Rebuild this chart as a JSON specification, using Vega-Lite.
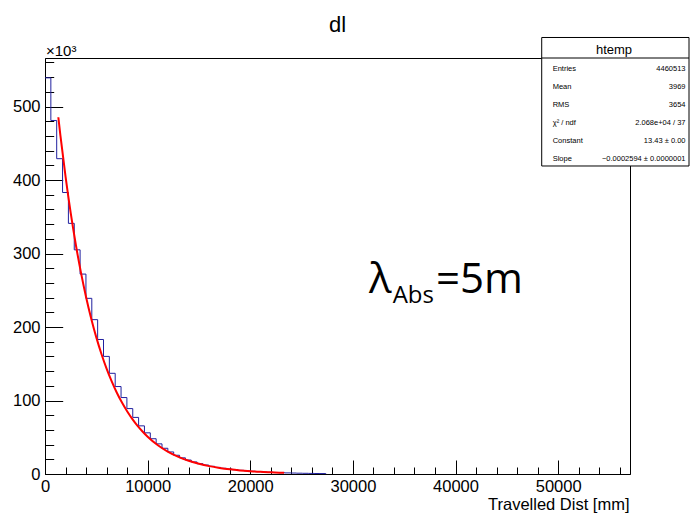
{
  "$schema": "https://vega.github.io/schema/vega-lite/v6.json",
  "width": 585,
  "height": 416,
  "autosize": {"type": "none"},
  "padding": {"left": 45, "top": 58, "right": 63, "bottom": 40},
  "background": "white",
  "config": {
    "view": {"stroke": "black", "strokeWidth": 1},
    "font": "Liberation Sans",
    "axis": {"grid": false, "tickColor": "black", "domainColor": "black", "labelColor": "black", "titleColor": "black"}
  },
  "title": {
    "text": "dl",
    "font": "Liberation Sans",
    "fontSize": 22,
    "fontWeight": "normal",
    "color": "black",
    "anchor": "middle",
    "frame": "group",
    "offset": 0
  },
  "datasets": {
    "hist": [
      {"dist": 0, "count": 539000},
      {"dist": 570, "count": 481000},
      {"dist": 1140, "count": 429000},
      {"dist": 1710, "count": 383000},
      {"dist": 2280, "count": 341000},
      {"dist": 2850, "count": 305000},
      {"dist": 3420, "count": 272000},
      {"dist": 3990, "count": 239000},
      {"dist": 4560, "count": 210000},
      {"dist": 5130, "count": 183000},
      {"dist": 5700, "count": 160000},
      {"dist": 6270, "count": 137000},
      {"dist": 6840, "count": 119000},
      {"dist": 7410, "count": 104000},
      {"dist": 7980, "count": 89000},
      {"dist": 8550, "count": 77000},
      {"dist": 9120, "count": 65500},
      {"dist": 9690, "count": 56000},
      {"dist": 10260, "count": 48000},
      {"dist": 10830, "count": 41000},
      {"dist": 11400, "count": 35000},
      {"dist": 11970, "count": 30000},
      {"dist": 12540, "count": 25500},
      {"dist": 13110, "count": 22000},
      {"dist": 13680, "count": 19000},
      {"dist": 14250, "count": 16400},
      {"dist": 14820, "count": 14000},
      {"dist": 15390, "count": 12200},
      {"dist": 15960, "count": 10500},
      {"dist": 16530, "count": 9000},
      {"dist": 17100, "count": 7800},
      {"dist": 17670, "count": 6700},
      {"dist": 18240, "count": 5800},
      {"dist": 18810, "count": 5000},
      {"dist": 19380, "count": 4300},
      {"dist": 19950, "count": 3700},
      {"dist": 20520, "count": 3200},
      {"dist": 21090, "count": 2700},
      {"dist": 21660, "count": 2400},
      {"dist": 22230, "count": 2000},
      {"dist": 22800, "count": 1750},
      {"dist": 23370, "count": 1500},
      {"dist": 23940, "count": 1300},
      {"dist": 24510, "count": 1100},
      {"dist": 25080, "count": 940},
      {"dist": 25650, "count": 810},
      {"dist": 26220, "count": 700},
      {"dist": 26790, "count": 600},
      {"dist": 27360, "count": 0}
    ],
    "fit": [
      {"dist": 1300, "count": 485400},
      {"dist": 1500, "count": 460800},
      {"dist": 2000, "count": 404800},
      {"dist": 2500, "count": 355500},
      {"dist": 3000, "count": 312300},
      {"dist": 3500, "count": 274300},
      {"dist": 4000, "count": 240900},
      {"dist": 4500, "count": 211600},
      {"dist": 5000, "count": 185900},
      {"dist": 5500, "count": 163300},
      {"dist": 6000, "count": 143400},
      {"dist": 6500, "count": 126000},
      {"dist": 7000, "count": 110600},
      {"dist": 7500, "count": 97200},
      {"dist": 8000, "count": 85400},
      {"dist": 8500, "count": 75000},
      {"dist": 9000, "count": 65800},
      {"dist": 9500, "count": 57900},
      {"dist": 10000, "count": 50800},
      {"dist": 11000, "count": 39200},
      {"dist": 12000, "count": 30200},
      {"dist": 13000, "count": 23300},
      {"dist": 14000, "count": 18000},
      {"dist": 15000, "count": 13900},
      {"dist": 16000, "count": 10700},
      {"dist": 17000, "count": 8300},
      {"dist": 18000, "count": 6400},
      {"dist": 19000, "count": 4900},
      {"dist": 20000, "count": 3800},
      {"dist": 21000, "count": 2900},
      {"dist": 22000, "count": 2300},
      {"dist": 23300, "count": 1600}
    ],
    "stats": [
      {"label": "Entries", "value": "4460513"},
      {"label": "Mean", "value": "3969"},
      {"label": "RMS", "value": "3654"},
      {"label": "χ² / ndf", "value": "2.068e+04 / 37"},
      {"label": "Constant", "value": "13.43 ± 0.00"},
      {"label": "Slope", "value": "−0.0002594 ± 0.0000001"}
    ]
  },
  "layer": [
    {
      "resolve": {"axis": {"x": "independent", "y": "independent"}},
      "layer": [
        {
          "data": {"name": "hist"},
          "mark": {"type": "line", "interpolate": "step-after", "color": "#20209f", "strokeWidth": 1},
          "encoding": {
            "x": {
              "field": "dist", "type": "quantitative",
              "scale": {"domain": [0, 57000], "nice": false, "zero": false},
              "axis": {
                "orient": "bottom",
                "values": [0, 10000, 20000, 30000, 40000, 50000],
                "format": "d",
                "labelFont": "Liberation Sans",
                "labelFontSize": 16.5,
                "labelPadding": 18,
                "labelFlush": false,
                "labelOverlap": false,
                "tickSize": -14,
                "title": "Travelled Dist [mm]",
                "titleFont": "Liberation Sans",
                "titleFontSize": 16.5,
                "titleFontWeight": "normal",
                "titleX": 584,
                "titleY": 35,
                "titleAlign": "right",
                "titleBaseline": "alphabetic"
              }
            },
            "y": {
              "field": "count", "type": "quantitative",
              "scale": {"domain": [0, 566000], "nice": false, "zero": false},
              "axis": {
                "orient": "left",
                "values": [0, 100000, 200000, 300000, 400000, 500000],
                "labelExpr": "format(datum.value / 1000, 'd')",
                "labelFont": "Liberation Sans",
                "labelFontSize": 16.5,
                "labelPadding": 22.7,
                "labelFlush": false,
                "labelOverlap": false,
                "tickSize": -17.7,
                "title": "×10³",
                "titleFont": "Liberation Sans",
                "titleFontSize": 15,
                "titleFontWeight": "normal",
                "titleAngle": 0,
                "titleX": 0.5,
                "titleY": -3,
                "titleAlign": "left",
                "titleBaseline": "alphabetic"
              }
            }
          }
        },
        {
          "data": {"name": "fit"},
          "mark": {"type": "line", "interpolate": "monotone", "color": "#ff0000", "strokeWidth": 2},
          "encoding": {
            "x": {
              "field": "dist", "type": "quantitative",
              "scale": {"domain": [0, 57000], "nice": false, "zero": false},
              "axis": {
                "orient": "bottom",
                "values": [2000, 4000, 6000, 8000, 12000, 14000, 16000, 18000, 22000, 24000, 26000, 28000, 32000, 34000, 36000, 38000, 42000, 44000, 46000, 48000, 52000, 54000, 56000],
                "labels": false,
                "domain": false,
                "tickSize": -7,
                "title": null
              }
            },
            "y": {
              "field": "count", "type": "quantitative",
              "scale": {"domain": [0, 566000], "nice": false, "zero": false},
              "axis": {
                "orient": "left",
                "values": [20000, 40000, 60000, 80000, 120000, 140000, 160000, 180000, 220000, 240000, 260000, 280000, 320000, 340000, 360000, 380000, 420000, 440000, 460000, 480000, 520000, 540000, 560000],
                "labels": false,
                "domain": false,
                "tickSize": -8.7,
                "title": null
              }
            }
          }
        },
        {
          "data": {"values": [{}]},
          "mark": {"type": "rect", "fill": "white", "stroke": "black", "strokeWidth": 1},
          "encoding": {
            "x": {"datum": 48397, "type": "quantitative", "scale": {"domain": [0, 57000], "nice": false, "zero": false}, "axis": null},
            "x2": {"datum": 62749},
            "y": {"datum": 593900, "type": "quantitative", "scale": {"domain": [0, 566000], "nice": false, "zero": false}, "axis": null},
            "y2": {"datum": 419060}
          }
        },
        {
          "data": {"values": [{}]},
          "mark": {"type": "rule", "stroke": "black", "strokeWidth": 1},
          "encoding": {
            "x": {"datum": 48397, "type": "quantitative", "scale": {"domain": [0, 57000], "nice": false, "zero": false}, "axis": null},
            "x2": {"datum": 62749},
            "y": {"datum": 566000, "type": "quantitative", "scale": {"domain": [0, 566000], "nice": false, "zero": false}, "axis": null}
          }
        },
        {
          "data": {"values": [{}]},
          "mark": {"type": "text", "text": "htemp", "font": "Liberation Sans", "fontSize": 13, "align": "center", "baseline": "alphabetic", "color": "black"},
          "encoding": {
            "x": {"datum": 55441, "type": "quantitative", "scale": {"domain": [0, 57000], "nice": false, "zero": false}, "axis": null},
            "y": {"datum": 571040, "type": "quantitative", "scale": {"domain": [0, 566000], "nice": false, "zero": false}, "axis": null}
          }
        },
        {
          "data": {"values": [{}]},
          "mark": {"type": "text", "text": "λ", "font": "Open Sans", "fontSize": 42, "align": "left", "baseline": "alphabetic", "color": "black"},
          "encoding": {
            "x": {"datum": 31569, "type": "quantitative", "scale": {"domain": [0, 57000], "nice": false, "zero": false}, "axis": null},
            "y": {"datum": 246670, "type": "quantitative", "scale": {"domain": [0, 566000], "nice": false, "zero": false}, "axis": null}
          }
        },
        {
          "data": {"values": [{}]},
          "mark": {"type": "text", "text": "Abs", "font": "Open Sans", "fontSize": 24, "align": "left", "baseline": "alphabetic", "color": "black"},
          "encoding": {
            "x": {"datum": 33878, "type": "quantitative", "scale": {"domain": [0, 57000], "nice": false, "zero": false}, "axis": null},
            "y": {"datum": 232250, "type": "quantitative", "scale": {"domain": [0, 566000], "nice": false, "zero": false}, "axis": null}
          }
        },
        {
          "data": {"values": [{}]},
          "mark": {"type": "text", "text": "=5m", "font": "Open Sans", "fontSize": 42, "align": "left", "baseline": "alphabetic", "color": "black"},
          "encoding": {
            "x": {"datum": 38097, "type": "quantitative", "scale": {"domain": [0, 57000], "nice": false, "zero": false}, "axis": null},
            "y": {"datum": 246670, "type": "quantitative", "scale": {"domain": [0, 566000], "nice": false, "zero": false}, "axis": null}
          }
        }
      ]
    },
    {
      "data": {"name": "stats"},
      "mark": {"type": "text", "font": "Liberation Sans", "fontSize": 7.5, "align": "left", "baseline": "alphabetic", "color": "black"},
      "encoding": {
        "x": {"datum": 49468, "type": "quantitative", "scale": {"domain": [0, 57000], "nice": false, "zero": false}, "axis": null},
        "y": {"field": "label", "type": "nominal", "sort": null, "scale": {"type": "point", "range": [12.7, 103], "padding": 0}, "axis": null},
        "text": {"field": "label"}
      }
    },
    {
      "data": {"name": "stats"},
      "mark": {"type": "text", "font": "Liberation Sans", "fontSize": 7.5, "align": "right", "baseline": "alphabetic", "color": "black"},
      "encoding": {
        "x": {"datum": 62407, "type": "quantitative", "scale": {"domain": [0, 57000], "nice": false, "zero": false}, "axis": null},
        "y": {"field": "label", "type": "nominal", "sort": null, "scale": {"type": "point", "range": [12.7, 103], "padding": 0}, "axis": null},
        "text": {"field": "value"}
      }
    }
  ],
  "resolve": {"scale": {"y": "independent"}, "axis": {"x": "independent"}}
}
